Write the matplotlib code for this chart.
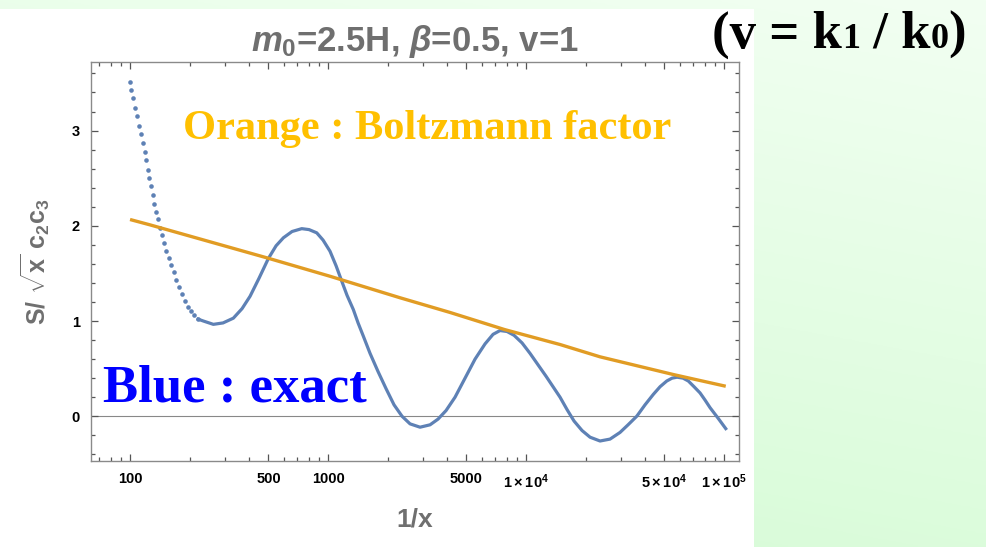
import numpy as np
import matplotlib.pyplot as plt
from matplotlib.patches import Rectangle
from matplotlib.ticker import FixedLocator, FixedFormatter, NullFormatter

plt.rcParams['font.family'] = ['Liberation Sans', 'DejaVu Sans']
plt.rcParams['mathtext.fontset'] = 'custom'
plt.rcParams['mathtext.rm'] = 'Liberation Sans'
plt.rcParams['mathtext.it'] = 'Liberation Sans:italic:bold'
plt.rcParams['mathtext.bf'] = 'Liberation Sans:bold'

# exact result, steep opening stretch (individual sample points)
exact_dots_x = [100, 101.5, 103.9, 106.4, 108.5, 111.0, 113.7, 115.9, 118.6, 120.4,
                122.8, 125.2, 127.6, 130.2, 132.7, 135.3, 138.5, 141.8, 145.0, 148.5,
                152.0, 156.8, 161.1, 165.9, 170.8, 176.8, 183.1, 189.6, 196.3, 203.3,
                210.5, 220.5]
exact_dots_y = [3.51, 3.43, 3.34, 3.24, 3.15, 3.05, 2.96, 2.87, 2.78, 2.69,
                2.59, 2.50, 2.42, 2.32, 2.23, 2.15, 2.07, 1.98, 1.90, 1.82,
                1.74, 1.66, 1.59, 1.51, 1.43, 1.36, 1.28, 1.21, 1.15, 1.10,
                1.06, 1.02]

# exact result, rest of the oscillation
exact_x = [220.5, 234.5, 263.5, 294.9, 332.5, 367.9, 403.8, 448.3, 499.4, 546.4,
           594.9, 658.0, 736.5, 801.7, 876.8, 943.5, 1023, 1098, 1173, 1247,
           1342, 1418, 1508, 1630, 1788, 1963, 2154, 2364, 2595, 2915,
           3275, 3594, 3945, 4379, 4920, 5527, 6208, 6813, 7390, 8017,
           8697, 9546, 10476, 11497, 12619, 13690, 14850, 16110, 17470, 19180,
           21050, 23640, 26560, 29830, 32750, 36240, 39900, 43950, 47520, 51360,
           54640, 57890, 62080, 66020, 70550, 75640, 80170, 84990, 93270, 102000]
exact_y = [1.02, 1.00, 0.965, 0.98, 1.03, 1.13, 1.26, 1.45, 1.656, 1.79,
           1.874, 1.94, 1.97, 1.96, 1.926, 1.85, 1.733, 1.58, 1.418, 1.27,
           1.12, 0.98, 0.84, 0.66, 0.47, 0.29, 0.12, 0.0, -0.08, -0.115,
           -0.09, -0.03, 0.06, 0.20, 0.40, 0.60, 0.76, 0.86, 0.90, 0.89,
           0.85, 0.77, 0.66, 0.54, 0.42, 0.31, 0.20, 0.07, -0.05, -0.15,
           -0.22, -0.26, -0.24, -0.17, -0.09, 0.0, 0.12, 0.23, 0.31, 0.37,
           0.40, 0.41, 0.40, 0.37, 0.31, 0.245, 0.17, 0.09, -0.02, -0.13]

# Boltzmann factor
boltz_x = [100, 126, 490, 1023, 2311, 4130, 7800, 14860, 23640, 55460, 102000]
boltz_y = [2.066, 2.01, 1.664, 1.47, 1.244, 1.09, 0.91, 0.753, 0.624, 0.438, 0.315]

x_ticks = [100, 500, 1000, 5000, 1e4, 5e4, 1e5]
x_tick_labels = ['100', '500', '1000', '5000',
                 r'$\mathbf{1\times10^{4}}$', r'$\mathbf{5\times10^{4}}$',
                 r'$\mathbf{1\times10^{5}}$']
x_minor = [70, 80, 90, 200, 300, 400, 600, 700, 800, 900,
           2000, 3000, 4000, 6000, 7000, 8000, 9000,
           20000, 30000, 40000, 60000, 70000, 80000, 90000]
y_ticks = [0, 1, 2, 3]
y_minor = [-0.4, -0.2, 0.2, 0.4, 0.6, 0.8, 1.2, 1.4, 1.6, 1.8,
           2.2, 2.4, 2.6, 2.8, 3.2, 3.4, 3.6]

W, H = 986, 547
fig = plt.figure(figsize=(W / 100, H / 100), dpi=100)

# slide background: pale green gradient with a white panel
bg = fig.add_axes([0, 0, 1, 1], zorder=-10)
gy = np.linspace(0, 1, 200)[:, None]
gx = np.linspace(0, 1, 200)[None, :]
t = np.clip(0.75 * gy + 0.25 * (1 - gx), 0, 1)
top = np.array([242, 255, 242]) / 255
bot = np.array([212, 251, 212]) / 255
grad = top[None, None, :] * (1 - t[..., None]) + bot[None, None, :] * t[..., None]
bg.imshow(grad, extent=[0, W, H, 0], aspect='auto')
bg.add_patch(Rectangle((0, 9), 754, H - 9, color='white', lw=0))
bg.set_xlim(0, W)
bg.set_ylim(H, 0)
bg.axis('off')

ax = fig.add_axes([91 / W, (H - 461) / H, (739 - 91) / W, (461 - 62) / H])
ax.set_facecolor('white')
ax.set_xscale('log')
ax.set_xlim(63.5, 1.19e5)
ax.set_ylim(-0.47, 3.72)

ax.axhline(0, color='#888888', lw=0.8, zorder=1)
ax.plot(boltz_x, boltz_y, color='#E19C24', lw=2.4, solid_capstyle='butt', zorder=3)
ax.plot(exact_x, exact_y, color='#5E81B5', lw=2.3, zorder=2)
ax.plot(exact_dots_x, exact_dots_y, ls='none', marker='o', ms=3.3,
        mfc='#5E81B5', mec='none', zorder=2)

ax.xaxis.set_major_locator(FixedLocator(x_ticks))
ax.xaxis.set_major_formatter(FixedFormatter(x_tick_labels))
ax.xaxis.set_minor_locator(FixedLocator(x_minor))
ax.xaxis.set_minor_formatter(NullFormatter())
ax.yaxis.set_major_locator(FixedLocator(y_ticks))
ax.yaxis.set_minor_locator(FixedLocator(y_minor))

for s in ax.spines.values():
    s.set_color('#8a8a8a')
    s.set_linewidth(1.0)
ax.tick_params(which='both', direction='in', top=True, right=True,
               color='#555555', width=0.9)
ax.tick_params(which='major', length=5, labelsize=10.5, labelcolor='black', pad=8)
ax.tick_params(which='minor', length=3)
for lab in ax.get_xticklabels() + ax.get_yticklabels():
    lab.set_fontweight('bold')

gray = '#6f6f6f'
ax.set_title(r'$m_\mathbf{0}$=2.5H, $\beta$=0.5, v=1', color=gray,
             fontsize=25, fontweight='bold', pad=8)
ax.set_xlabel('1/x', color=gray, fontsize=19, fontweight='bold', labelpad=12)
ax.set_ylabel(r'$\mathbf{S/}\ \sqrt{\mathbf{x}}\ \mathbf{c_2c_3}$', color=gray,
              fontsize=18, labelpad=14)

serif = ['Liberation Serif', 'DejaVu Serif']
fig.text(183 / W, 1 - 139 / H, 'Orange : Boltzmann factor', color='#FFC000',
         fontsize=30.5, fontweight='bold', family=serif, va='baseline', ha='left')
fig.text(103 / W, 1 - 401 / H, 'Blue : exact', color='#0000FF',
         fontsize=38, fontweight='bold', family=serif, va='baseline', ha='left')

# "(v = k1 / k0)" with smaller digits on the same baseline
pieces = [('(v = k', 38), ('1', 26), (' / k', 38), ('0', 26), (')', 38)]
fig.canvas.draw()
renderer = fig.canvas.get_renderer()
xpos = 712 / W
base = 1 - 48 / H
for txt, size in pieces:
    t_ = fig.text(xpos, base, txt, fontsize=size, fontweight='bold', family=serif,
                  color='black', va='baseline', ha='left')
    bb = t_.get_window_extent(renderer)
    xpos = bb.x1 / W

fig.savefig('out.png', dpi=100)
